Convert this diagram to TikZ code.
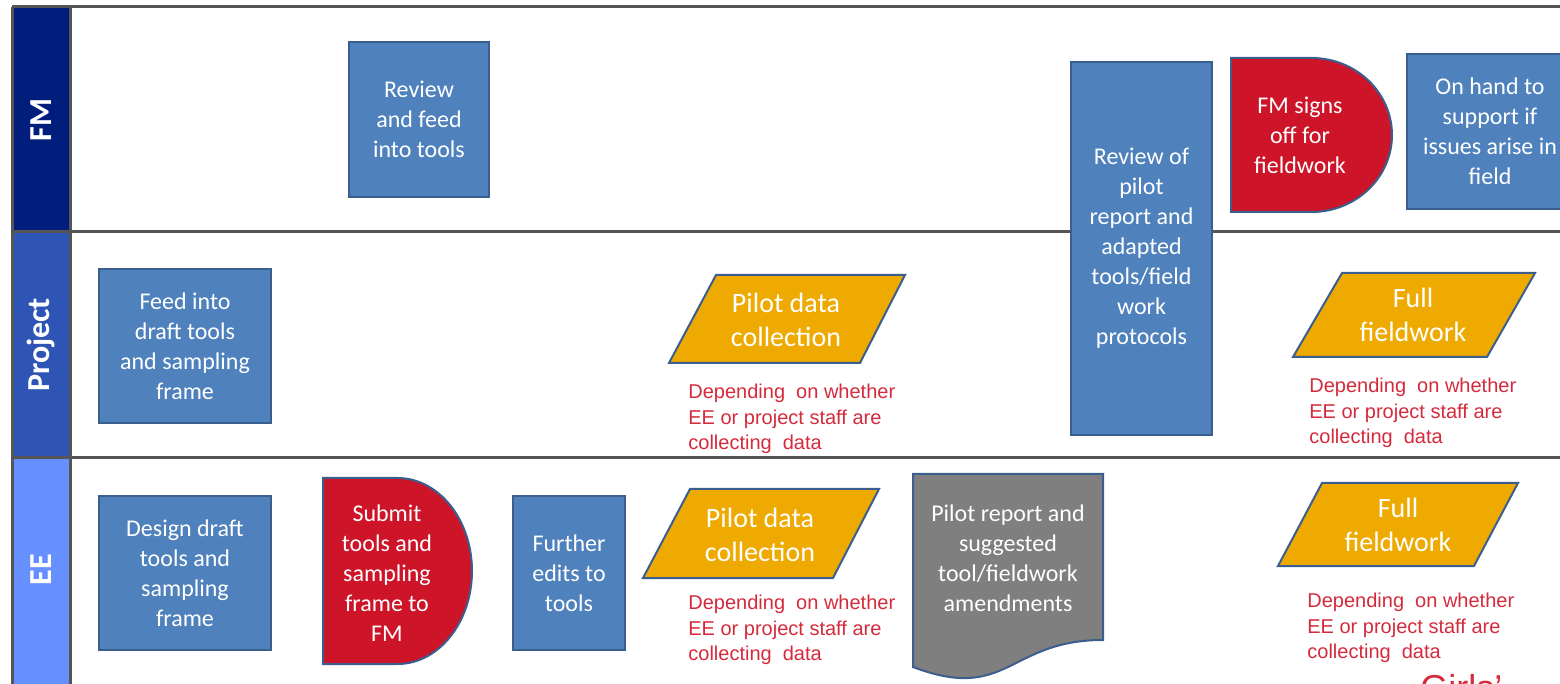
\documentclass[tikz,border=0pt]{standalone}
\usepackage{fontspec}
\setmainfont{Carlito}
\newfontfamily\arialfont{Liberation Sans}

\definecolor{fmnavy}{HTML}{011E7C}
\definecolor{projblue}{HTML}{2E55B5}
\definecolor{eesky}{HTML}{6690FF}
\definecolor{taskblue}{HTML}{4F81BD}
\definecolor{taskedge}{HTML}{3A5E8E}
\definecolor{signred}{HTML}{CE1429}
\definecolor{fieldgold}{HTML}{EEAA00}
\definecolor{reportgray}{HTML}{7F7F7F}
\definecolor{notered}{HTML}{D42A3C}
\definecolor{lanegray}{HTML}{555555}

\begin{document}
\begin{tikzpicture}[x=0.5pt,y=-0.5pt,
  lane/.style={draw=lanegray, line width=1.5pt},
  lanelabel/.style={rotate=90, text=white, font=\bfseries\fontsize{16}{18}\selectfont},
  task/.style={draw=taskedge, line width=1pt, fill=taskblue, text=white,
    align=center, inner sep=0pt, font=\fontsize{12}{15}\selectfont},
  outline/.style={draw=taskedge, line width=1pt},
  boxtext/.style={text=white, align=center, inner sep=0pt},
  smalltext/.style={boxtext, font=\fontsize{12}{15}\selectfont},
  bigtext/.style={boxtext, font=\fontsize{14}{17}\selectfont},
  note/.style={text=notered, align=left, inner sep=0pt, anchor=west,
    font=\arialfont\fontsize{10}{12.75}\selectfont}
]
\useasboundingbox (0,0) rectangle (1560,684);
\clip (0,0) rectangle (1560,684);

% swim lanes
\coordinate (NW) at (12,7);
\coordinate (NE) at (1560,7);
\fill[fmnavy] (12,7) rectangle (70,232);
\fill[projblue] (12,232) rectangle (70,458);
\fill[eesky] (12,458) rectangle (70,700);
\draw[lane] (NW) -- (NE);
\draw[lane] (12,232) -- (1560,232);
\draw[lane] (12,458) -- (1560,458);
\draw[lane] (NW) -- (12,700);
\draw[lane] (70,7) -- (70,700);
\node[lanelabel] (fm) at (41,120) {FM};
\node[lanelabel] (project) at (41,345) {Project};
\node[lanelabel] (ee) at (41,570) {EE};

% plain task boxes
\node[task, minimum width=70pt, minimum height=77.5pt] (review) at (419,119.5)
  {Review\\and feed\\into tools};
\node[task, minimum width=86pt, minimum height=77pt] (feed) at (185,346)
  {Feed into\\draft tools\\and sampling\\frame};
\node[task, minimum width=86pt, minimum height=77pt] (design) at (185,573)
  {Design draft\\tools and\\sampling\\frame};
\node[task, minimum width=56pt, minimum height=77pt] (edits) at (569,573)
  {Further\\edits to\\tools};
\node[task, minimum width=70.5pt, minimum height=186.5pt] (pilotreview) at (1141.5,248.5)
  {Review of\\pilot\\report and\\adapted\\tools/field\\work\\protocols};
\node[task, minimum width=83pt, minimum height=77.5pt] (onhand) at (1490,131.5)
  {On hand to\\support if\\issues arise in\\field};

% sign-off shapes
\draw[outline, fill=signred] (323,478) -- (397.5,478)
  arc[start angle=-90, end angle=90, x radius=74.5, y radius=93] -- (323,664) -- cycle;
\node[smalltext] (submit) at (387,573) {Submit\\tools and\\sampling\\frame to\\FM};
\draw[outline, fill=signred] (1231,58) -- (1311.5,58)
  arc[start angle=-90, end angle=90, x radius=80.5, y radius=77] -- (1231,212) -- cycle;
\node[smalltext] (signoff) at (1300,135) {FM signs\\off for\\fieldwork};

% pilot report document
\draw[outline, fill=reportgray] (913,474) -- (1103,474) -- (1103,640)
  .. controls (1008,640) and (1008,703) .. (913,667) -- cycle;
\node[smalltext] (report) at (1008,558)
  {Pilot report and\\suggested\\tool/fieldwork\\amendments};

% data collection
\draw[outline, fill=fieldgold] (716,275) -- (905,275) -- (860,363) -- (669,363) -- cycle;
\node[bigtext] (pilotproj) at (786,320) {Pilot data\\collection};
\draw[outline, fill=fieldgold] (690,489) -- (879,489) -- (833,578) -- (643,578) -- cycle;
\node[bigtext] (pilotee) at (760,535) {Pilot data\\collection};
\draw[outline, fill=fieldgold] (1342,273) -- (1535,273) -- (1487,357) -- (1293,357) -- cycle;
\node[bigtext] (fullproj) at (1413,315) {Full\\fieldwork};
\draw[outline, fill=fieldgold] (1322,483) -- (1518,483) -- (1474,566) -- (1278,566) -- cycle;
\node[bigtext] (fullee) at (1398,525) {Full\\fieldwork};

% who collects
\node[note] (pilotprojnote) at (688,419)
  {Depending~ on whether\\EE or project staff are\\collecting~ data};
\node[note] (piloteenote) at (688,630)
  {Depending~ on whether\\EE or project staff are\\collecting~ data};
\node[note] (fullprojnote) at (1309,413)
  {Depending~ on whether\\EE or project staff are\\collecting~ data};
\node[note] (fulleenote) at (1307,628)
  {Depending~ on whether\\EE or project staff are\\collecting~ data};

\node[text=notered, anchor=base west, inner sep=0pt,
  font=\arialfont\fontsize{18}{18}\selectfont] (girls) at (1420,700) {Girls’};
\end{tikzpicture}
\end{document}
